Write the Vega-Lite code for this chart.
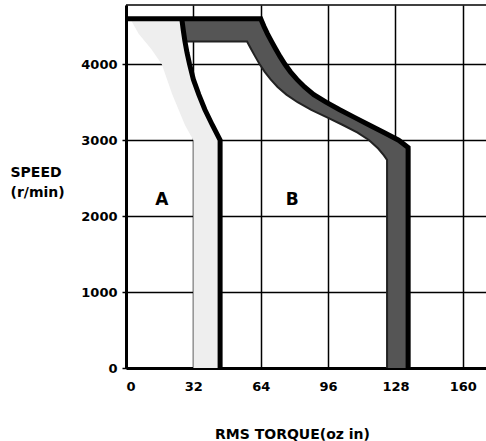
{
  "$schema": "https://vega.github.io/schema/vega-lite/v6.json",
  "width": 360,
  "height": 363,
  "autosize": {"type": "none"},
  "padding": {"left": 126, "top": 5, "right": 0, "bottom": 73},
  "background": "white",
  "config": {
    "view": {"stroke": null},
    "font": "DejaVu Sans",
    "axis": {
      "labelFont": "DejaVu Sans",
      "titleFont": "DejaVu Sans",
      "labelColor": "black",
      "titleColor": "black",
      "labelFontWeight": "bold",
      "titleFontWeight": "bold",
      "labelFontSize": 13,
      "titleFontSize": 14,
      "gridColor": "black",
      "gridWidth": 1.5,
      "gridOpacity": 1,
      "domainColor": "black",
      "domainWidth": 3,
      "tickColor": "black",
      "zindex": 1
    }
  },
  "datasets": {
    "bandA": [
      {"y": 0, "xl": 32, "xr": 45},
      {"y": 3000, "xl": 32, "xr": 44.7},
      {"y": 3200, "xl": 28, "xr": 41},
      {"y": 3400, "xl": 25, "xr": 37.5},
      {"y": 3600, "xl": 22, "xr": 34.6},
      {"y": 3800, "xl": 19.5, "xr": 32},
      {"y": 4000, "xl": 17, "xr": 30.2},
      {"y": 4200, "xl": 12, "xr": 28.7},
      {"y": 4400, "xl": 6, "xr": 27.5},
      {"y": 4600, "xl": 2, "xr": 26.5}
    ],
    "bandB": [
      {"y": 0, "xl": 124, "xr": 135},
      {"y": 2740, "xl": 124, "xr": 135},
      {"y": 2800, "xl": 122.5, "xr": 135},
      {"y": 2890, "xl": 119.8, "xr": 135},
      {"y": 3000, "xl": 115.5, "xr": 129.5},
      {"y": 3100, "xl": 110, "xr": 122.5},
      {"y": 3200, "xl": 103, "xr": 115.5},
      {"y": 3300, "xl": 95.5, "xr": 108.5},
      {"y": 3400, "xl": 88, "xr": 101.5},
      {"y": 3500, "xl": 81.5, "xr": 95},
      {"y": 3600, "xl": 76.2, "xr": 89.2},
      {"y": 3700, "xl": 72, "xr": 84.8},
      {"y": 3800, "xl": 68.7, "xr": 81.2},
      {"y": 3900, "xl": 65.9, "xr": 78.1},
      {"y": 4000, "xl": 63.5, "xr": 75.5},
      {"y": 4100, "xl": 61.4, "xr": 73.2},
      {"y": 4200, "xl": 59.4, "xr": 71.1},
      {"y": 4300, "xl": 57.5, "xr": 69.1},
      {"y": 4302, "xl": 28, "xr": 69.1},
      {"y": 4400, "xl": 27.5, "xr": 67.2},
      {"y": 4500, "xl": 27, "xr": 65.5},
      {"y": 4600, "xl": 26.5, "xr": 64}
    ],
    "curves": [
      {"s": "outer", "i": 0, "x": 0, "y": 4600},
      {"s": "outer", "i": 1, "x": 64, "y": 4600},
      {"s": "outer", "i": 2, "x": 65.5, "y": 4500},
      {"s": "outer", "i": 3, "x": 67.2, "y": 4400},
      {"s": "outer", "i": 4, "x": 69.1, "y": 4300},
      {"s": "outer", "i": 5, "x": 71.1, "y": 4200},
      {"s": "outer", "i": 6, "x": 73.2, "y": 4100},
      {"s": "outer", "i": 7, "x": 75.5, "y": 4000},
      {"s": "outer", "i": 8, "x": 78.1, "y": 3900},
      {"s": "outer", "i": 9, "x": 81.2, "y": 3800},
      {"s": "outer", "i": 10, "x": 84.8, "y": 3700},
      {"s": "outer", "i": 11, "x": 89.2, "y": 3600},
      {"s": "outer", "i": 12, "x": 95, "y": 3500},
      {"s": "outer", "i": 13, "x": 101.5, "y": 3400},
      {"s": "outer", "i": 14, "x": 108.5, "y": 3300},
      {"s": "outer", "i": 15, "x": 115.5, "y": 3200},
      {"s": "outer", "i": 16, "x": 122.5, "y": 3100},
      {"s": "outer", "i": 17, "x": 129.5, "y": 3000},
      {"s": "outer", "i": 18, "x": 134, "y": 2905},
      {"s": "outer", "i": 19, "x": 134, "y": 0},
      {"s": "a", "i": 0, "x": 26.5, "y": 4600},
      {"s": "a", "i": 1, "x": 27.2, "y": 4450},
      {"s": "a", "i": 2, "x": 28, "y": 4300},
      {"s": "a", "i": 3, "x": 29, "y": 4150},
      {"s": "a", "i": 4, "x": 30.2, "y": 4000},
      {"s": "a", "i": 5, "x": 32, "y": 3800},
      {"s": "a", "i": 6, "x": 34.6, "y": 3600},
      {"s": "a", "i": 7, "x": 37.5, "y": 3400},
      {"s": "a", "i": 8, "x": 41, "y": 3200},
      {"s": "a", "i": 9, "x": 44.7, "y": 3000},
      {"s": "a", "i": 10, "x": 44.7, "y": 0},
      {"s": "inner", "i": 0, "x": 28, "y": 4300},
      {"s": "inner", "i": 1, "x": 57.5, "y": 4300},
      {"s": "inner", "i": 2, "x": 59.4, "y": 4200},
      {"s": "inner", "i": 3, "x": 61.4, "y": 4100},
      {"s": "inner", "i": 4, "x": 63.5, "y": 4000},
      {"s": "inner", "i": 5, "x": 65.9, "y": 3900},
      {"s": "inner", "i": 6, "x": 68.7, "y": 3800},
      {"s": "inner", "i": 7, "x": 72, "y": 3700},
      {"s": "inner", "i": 8, "x": 76.2, "y": 3600},
      {"s": "inner", "i": 9, "x": 81.5, "y": 3500},
      {"s": "inner", "i": 10, "x": 88, "y": 3400},
      {"s": "inner", "i": 11, "x": 95.5, "y": 3300},
      {"s": "inner", "i": 12, "x": 103, "y": 3200},
      {"s": "inner", "i": 13, "x": 110, "y": 3100},
      {"s": "inner", "i": 14, "x": 115.5, "y": 3000},
      {"s": "inner", "i": 15, "x": 119.8, "y": 2890},
      {"s": "inner", "i": 16, "x": 122.5, "y": 2800},
      {"s": "inner", "i": 17, "x": 124, "y": 2740},
      {"s": "inner", "i": 18, "x": 124, "y": 0}
    ],
    "labels": [
      {"label": "A", "x": 17, "y": 2210},
      {"label": "B", "x": 79, "y": 2210}
    ],
    "top": [{"y": 4780}]
  },
  "layer": [
    {
      "data": {"name": "bandA"},
      "mark": {"type": "area", "orient": "horizontal", "color": "#eeeeee"},
      "encoding": {
        "y": {
          "field": "y", "type": "quantitative",
          "scale": {"domain": [0, 4780], "nice": false},
          "axis": {
            "values": [0, 1000, 2000, 3000, 4000],
            "format": "d",
            "grid": true,
            "tickSize": 4,
            "tickWidth": 1.5,
            "labelPadding": 5,
            "title": ["SPEED", "(r/min)"],
            "titleAngle": 0,
            "titleAlign": "left",
            "titleBaseline": "alphabetic",
            "titleX": -116,
            "titleY": 171,
            "titleLineHeight": 20
          }
        },
        "x": {
          "field": "xl", "type": "quantitative",
          "scale": {"domain": [0, 171], "nice": false},
          "axis": {
            "values": [0, 32, 64, 96, 128, 160],
            "format": "d",
            "grid": true,
            "ticks": false,
            "tickSize": 0,
            "labelPadding": 12,
            "title": "RMS TORQUE(oz in)",
            "titleAlign": "center",
            "titleBaseline": "alphabetic",
            "titleX": 166,
            "titleY": 70
          }
        },
        "x2": {"field": "xr"}
      }
    },
    {
      "data": {"name": "bandB"},
      "mark": {"type": "area", "orient": "horizontal", "color": "#555555"},
      "encoding": {
        "y": {"field": "y", "type": "quantitative"},
        "x": {"field": "xl", "type": "quantitative"},
        "x2": {"field": "xr"}
      }
    },
    {
      "data": {"name": "curves"},
      "transform": [{"filter": "datum.s === 'inner'"}],
      "mark": {"type": "line", "color": "#222", "strokeWidth": 2},
      "encoding": {
        "x": {"field": "x", "type": "quantitative"},
        "y": {"field": "y", "type": "quantitative"},
        "order": {"field": "i"}
      }
    },
    {
      "data": {"name": "curves"},
      "transform": [{"filter": "datum.s !== 'inner'"}],
      "mark": {"type": "line", "color": "black", "strokeWidth": 5, "strokeJoin": "miter"},
      "encoding": {
        "x": {"field": "x", "type": "quantitative"},
        "y": {"field": "y", "type": "quantitative"},
        "detail": {"field": "s"},
        "order": {"field": "i"}
      }
    },
    {
      "data": {"name": "top"},
      "mark": {"type": "rule", "color": "black", "strokeWidth": 1.5},
      "encoding": {
        "y": {"field": "y", "type": "quantitative"}
      }
    },
    {
      "data": {"name": "labels"},
      "mark": {"type": "text", "font": "DejaVu Sans", "fontSize": 17, "fontWeight": "bold", "color": "black"},
      "encoding": {
        "x": {"field": "x", "type": "quantitative"},
        "y": {"field": "y", "type": "quantitative"},
        "text": {"field": "label"}
      }
    }
  ]
}
